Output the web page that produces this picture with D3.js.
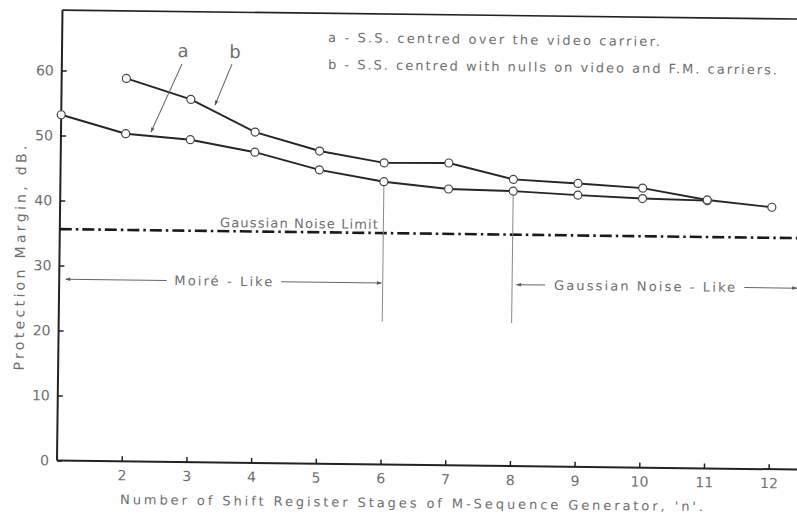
<!DOCTYPE html>
<html>
<head>
<meta charset="utf-8">
<script src="https://cdn.jsdelivr.net/npm/d3@7"></script>
<style>
  html, body { margin: 0; padding: 0; background: #fff; }
  svg { display: block; }
  text { font-family: "DejaVu Sans", "Liberation Sans", sans-serif; fill: #6e6e6e; }
</style>
</head>
<body>
<svg id="chart" width="797" height="515"></svg>
<script>
// ---- data ----
const xA = [1, 2, 3, 4, 5, 6, 7, 8, 9, 10, 11];
const seriesA = [53.2, 50.4, 49.6, 47.8, 45.2, 43.5, 42.5, 42.3, 41.8, 41.4, 41.2];
const xB = [2, 3, 4, 5, 6, 7, 8, 9, 10, 11, 12];
const seriesB = [58.9, 55.8, 50.9, 48.1, 46.4, 46.5, 44.1, 43.6, 43.0, 41.3, 40.3];
const xTicks = [2, 3, 4, 5, 6, 7, 8, 9, 10, 11, 12];
const yTicks = [0, 10, 20, 30, 40, 50, 60];
const gaussianLimit = 35.6;
const regionLevel = 27.9;
const regionBounds = [1, 6, 8, 12.4];
const dividerX = [6, 8];
const dividerBottom = 22;
const legendLines = [
  "a - S.S. centred over the video carrier.",
  "b - S.S. centred with nulls on video and F.M. carriers."
];

// ---- layout (scan is slightly rotated) ----
const angle = 0.7, ox = 57, oy = 460.5;
function inv(xs, ys) {
  const r = -angle * Math.PI / 180, dx = xs - ox, dy = ys - oy;
  return [ox + dx * Math.cos(r) - dy * Math.sin(r), oy + dx * Math.sin(r) + dy * Math.cos(r)];
}

const svg = d3.select("#chart");
const g = svg.append("g").attr("transform", `rotate(${angle},${ox},${oy})`);

const x = d3.scaleLinear().domain([1, 12]).range([57, 768.7]);
const y = d3.scaleLinear().domain([0, 60]).range([460.5, 70.5]);
const yTop = 69.3, xRight = 12.8;

// defs: arrowheads
const defs = svg.append("defs");
defs.append("marker").attr("id", "arr").attr("viewBox", "0 0 10 10").attr("refX", 9).attr("refY", 5)
  .attr("markerWidth", 7).attr("markerHeight", 5).attr("orient", "auto-start-reverse")
  .append("path").attr("d", "M0,1.5 L10,5 L0,8.5 Z").attr("fill", "#555");

// frame
g.append("line").attr("x1", x(1)).attr("x2", x(1)).attr("y1", y(0)).attr("y2", y(yTop))
  .attr("stroke", "#222").attr("stroke-width", 2);
g.append("line").attr("x1", x(1)).attr("x2", x(xRight)).attr("y1", y(0)).attr("y2", y(0))
  .attr("stroke", "#222").attr("stroke-width", 2);
g.append("line").attr("x1", x(1)).attr("x2", x(xRight)).attr("y1", y(yTop)).attr("y2", y(yTop))
  .attr("stroke", "#222").attr("stroke-width", 1.6);

// axes
const yAxis = g.append("g").attr("transform", `translate(${x(1)},0)`)
  .call(d3.axisLeft(y).tickValues(yTicks).tickSizeInner(-5).tickSizeOuter(0).tickPadding(8));
const xAxis = g.append("g").attr("transform", `translate(0,${y(0)})`)
  .call(d3.axisBottom(x).tickValues(xTicks).tickSizeInner(-5).tickSizeOuter(0).tickPadding(9));
[yAxis, xAxis].forEach(a => {
  a.select(".domain").remove();
  a.selectAll(".tick line").attr("stroke", "#222").attr("stroke-width", 1.5);
  a.selectAll(".tick text").attr("font-size", 14).attr("fill", "#6e6e6e")
    .attr("font-family", "'DejaVu Sans', sans-serif");
});

// Gaussian noise limit (dash-dot)
g.append("line").attr("x1", x(1)).attr("x2", x(xRight)).attr("y1", y(gaussianLimit)).attr("y2", y(gaussianLimit))
  .attr("stroke", "#1a1a1a").attr("stroke-width", 2.6).attr("stroke-dasharray", "12,4,2.5,4");
{
  const p = inv(220, 227);
  g.append("text").attr("x", p[0]).attr("y", p[1]).attr("font-size", 13)
    .attr("textLength", 158).attr("lengthAdjust", "spacing").text("Gaussian Noise Limit");
}

// divider lines at n = 6 and n = 8
dividerX.forEach(v => {
  const idx = xA.indexOf(v);
  g.append("line").attr("x1", x(v)).attr("x2", x(v)).attr("y1", y(seriesA[idx])).attr("y2", y(dividerBottom))
    .attr("stroke", "#888").attr("stroke-width", 1);
});

// region arrows
const yy = y(regionLevel);
function seg(a, b, startHead, endHead) {
  const l = g.append("line").attr("x1", x(a)).attr("x2", x(b)).attr("y1", yy).attr("y2", yy)
    .attr("stroke", "#666").attr("stroke-width", 1);
  if (startHead) l.attr("marker-start", "url(#arr)");
  if (endHead) l.attr("marker-end", "url(#arr)");
}
seg(1.1, 2.66, true, false);
seg(4.43, 5.98, false, true);
seg(8.07, 8.51, true, false);
seg(11.59, regionBounds[3], false, true);
g.append("text").attr("x", x(2.78)).attr("y", yy).attr("dy", "0.35em").attr("font-size", 13)
  .attr("textLength", 98).attr("lengthAdjust", "spacing").text("Moiré - Like");
g.append("text").attr("x", x(8.65)).attr("y", yy).attr("dy", "0.35em").attr("font-size", 13)
  .attr("textLength", 181).attr("lengthAdjust", "spacing").text("Gaussian Noise - Like");

// curves
const line = d3.line().x(d => x(d[0])).y(d => y(d[1]));
const dataA = xA.map((v, i) => [v, seriesA[i]]);
const dataB = xB.map((v, i) => [v, seriesB[i]]);
[dataA, dataB].forEach(d => {
  g.append("path").datum(d).attr("d", line).attr("fill", "none").attr("stroke", "#262626").attr("stroke-width", 1.9);
});
[dataA, dataB].forEach(d => {
  g.selectAll(null).data(d).enter().append("circle")
    .attr("cx", p => x(p[0])).attr("cy", p => y(p[1])).attr("r", 4)
    .attr("fill", "#fff").attr("stroke", "#444").attr("stroke-width", 1.2);
});

// curve labels and pointer arrows
function pointer(label, lx, ly, x0, y0, x1, y1) {
  const p = inv(lx, ly);
  g.append("text").attr("x", p[0]).attr("y", p[1]).attr("text-anchor", "middle").attr("font-size", 18)
    .attr("fill", "#555").text(label);
  const a = inv(x0, y0), b = inv(x1, y1);
  g.append("line").attr("x1", a[0]).attr("y1", a[1]).attr("x2", b[0]).attr("y2", b[1])
    .attr("stroke", "#666").attr("stroke-width", 1).attr("marker-end", "url(#arr)");
}
pointer("a", 183, 57, 182, 64, 151, 132);
pointer("b", 235, 58, 232, 64, 215, 105);

// legend
{
  const p1 = inv(328, 42);
  g.append("text").attr("x", p1[0]).attr("y", p1[1]).attr("font-size", 13)
    .attr("textLength", 332).attr("lengthAdjust", "spacing").text(legendLines[0]);
  const p2 = inv(328, 69);
  g.append("text").attr("x", p2[0]).attr("y", p2[1]).attr("font-size", 13)
    .attr("textLength", 449).attr("lengthAdjust", "spacing").text(legendLines[1]);
}

// axis titles
{
  const p = inv(120, 504);
  g.append("text").attr("x", p[0]).attr("y", p[1]).attr("font-size", 13)
    .attr("textLength", 583).attr("lengthAdjust", "spacing")
    .text("Number of Shift Register Stages of M-Sequence Generator, 'n'.");
  const q = inv(25, 258);
  g.append("text").attr("transform", `translate(${q[0]},${q[1]}) rotate(-90)`)
    .attr("text-anchor", "middle").attr("font-size", 14)
    .attr("textLength", 225).attr("lengthAdjust", "spacing").text("Protection Margin, dB.");
}
</script>
</body>
</html>
